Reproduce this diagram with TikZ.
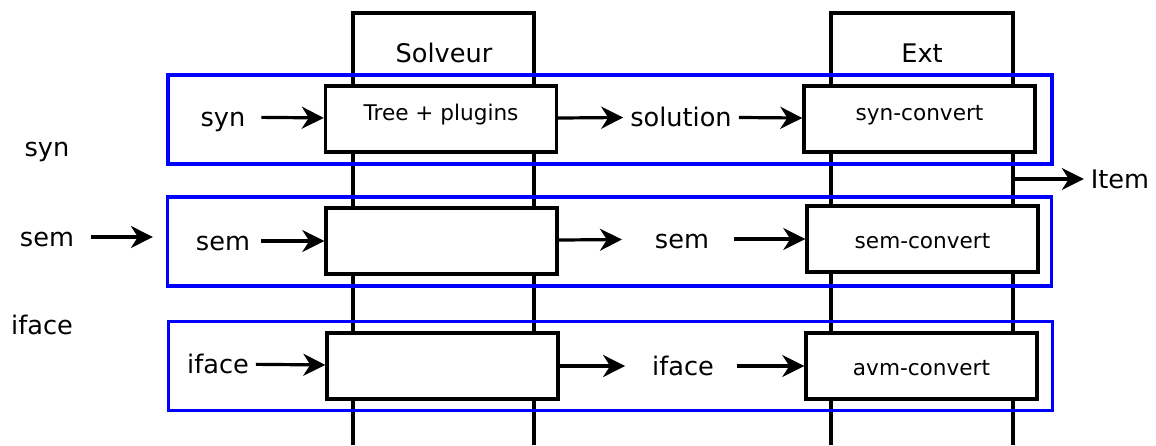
\documentclass[tikz,border=0pt]{standalone}
\usepackage{fontspec}
\setmainfont{DejaVu Sans}
\usetikzlibrary{arrows.meta,positioning}

\begin{document}
\begin{tikzpicture}[x=0.5pt,y=-0.5pt,
  lbl/.style={font=\fontsize{12.8}{15}\selectfont,text height=11pt,text depth=1.5pt},
  unit/.style={draw,line width=1.7pt,fill=white,minimum width=115.5pt,minimum height=33pt,font=\fontsize{10.8}{13}\selectfont,text height=9.8pt,text depth=0pt},
  high/.style={text height=8pt,text depth=6.5pt},
  layer/.style={draw=blue,line width=1.6pt,minimum width=442pt,minimum height=44.5pt},
  col/.style={line width=1.7pt},
  arr/.style={-{Stealth[length=11pt,width=11pt,inset=3.5pt]},line width=1.6pt}]
  \useasboundingbox (0,0) rectangle (1156,445);
  % the two columns
  \draw[col] (353,445) |- (534,13) -- (534,445);
  \draw[col] (831,445) |- (1013,13) -- (1013,445);
  \node[lbl](solveur) at (444,53) {Solveur};
  \node[lbl](ext) at (922,53) {Ext};
  % rows
  \node[layer](synrow) at (610,119.5) {};
  \node[layer](semrow) at (609.5,241.5) {};
  \node[layer](ifacerow) at (610.5,366) {};
  \node[unit,high](tree) at (441,119) {Tree + plugins};
  \node[unit,high](synconv) at (919.5,119) {syn-convert};
  \node[unit](semsolv) at (441.5,241) {};
  \node[unit](semconv) at (922.5,239) {sem-convert};
  \node[unit](ifacesolv) at (442.5,366) {};
  \node[unit](avmconv) at (921.5,366) {avm-convert};
  % labels
  \node[lbl](synin) at (223,117) {syn};
  \node[lbl](solution) at (681,117) {solution};
  \node[lbl](semin) at (223,241) {sem};
  \node[lbl](semout) at (682,239) {sem};
  \node[lbl](ifacein) at (218,364) {iface};
  \node[lbl](ifaceout) at (683,366) {iface};
  \node[lbl](synleft) at (47,147) {syn};
  \node[lbl](semleft) at (47,237) {sem};
  \node[lbl](ifaceleft) at (42,325) {iface};
  \node[lbl](item) at (1120,179) {Item};
  \coordinate (itemsrc) at (1013,179);
  % arrows
  \draw[arr,shorten <=4.5pt](synin)--(tree);
  \draw[arr](tree)--(solution);
  \draw[arr](solution)--(synconv);
  \draw[arr,shorten <=2pt](semin)--(semsolv);
  \draw[arr,shorten >=13pt](semsolv)--(semout);
  \draw[arr,shorten <=9pt](semout)--(semconv);
  \draw[arr](ifacein)--(ifacesolv);
  \draw[arr,shorten >=10pt](ifacesolv)--(ifaceout);
  \draw[arr,shorten <=8pt](ifaceout)--(avmconv);
  \draw[arr,shorten <=5pt,shorten >=6.5pt](semleft)--(semleft-|semrow.west);
  \draw[arr](itemsrc)--(item);
\end{tikzpicture}
\end{document}
